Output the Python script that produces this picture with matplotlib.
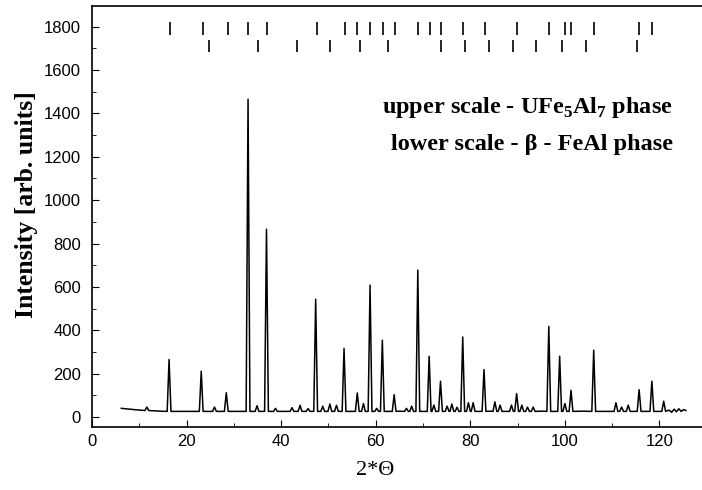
"""X-ray powder pattern of the UFe5Al7 sample with Bragg-position markers."""
import matplotlib
matplotlib.use("Agg")
import matplotlib.pyplot as plt
from matplotlib.ticker import MultipleLocator

# peak positions (2theta, deg) and peak heights
PEAK_POS = [11.6, 16.3, 23.1, 25.9, 28.4, 33.0, 34.9, 36.9, 38.8, 42.3,
            44.0, 45.7, 47.3, 48.8, 50.3, 51.7, 53.3, 56.1, 57.4, 58.8,
            60.2, 61.4, 63.9, 66.5, 67.6, 68.9, 71.3, 72.3, 73.7, 75.1,
            76.1, 77.2, 78.4, 79.6, 80.6, 82.9, 85.2, 86.3, 88.7, 89.8,
            90.9, 92.1, 93.3, 96.6, 98.9, 100.0, 101.3, 106.1, 110.8, 112.0,
            113.4, 115.7, 118.4, 120.9]
PEAK_INT = [46, 265, 211, 46, 112, 1465, 52, 866, 40, 43,
            54, 39, 543, 50, 60, 54, 316, 111, 62, 608,
            40, 354, 103, 40, 50, 677, 280, 55, 165, 50,
            60, 45, 369, 66, 66, 219, 70, 55, 55, 108,
            55, 46, 46, 418, 280, 62, 123, 308, 66, 46,
            55, 126, 165, 73]

# background points (start of scan decays, end is noisy)
BG_POS = [6.2, 7.5, 9.0, 10.5, 12.8, 14.5, 19.5, 30.5, 40.5, 65.0,
          84.0, 95.0, 104.0, 109.0, 122.0, 122.6, 123.1, 123.6, 124.1,
          124.6, 125.1, 125.6]
BG_INT = [40, 37, 34, 31, 29, 27, 26, 26, 26, 27,
          27, 27, 27, 26, 32, 22, 36, 24, 38, 26, 34, 30]
BASE = 26

# Bragg marker positions
UPPER_TICKS = [16.6, 23.4, 28.7, 33.0, 37.1, 47.5, 53.4, 56.1, 58.8, 61.5,
               64.0, 69.0, 71.5, 73.9, 78.5, 83.1, 89.9, 96.7, 100.1, 101.3,
               106.1, 115.7, 118.4]
LOWER_TICKS = [24.7, 35.0, 43.3, 50.3, 56.7, 62.5, 73.8, 78.8, 83.9, 89.1,
               94.0, 99.3, 104.4, 115.3]

plt.rcParams["mathtext.fontset"] = "custom"
plt.rcParams["mathtext.bf"] = "Liberation Serif:bold"
plt.rcParams["mathtext.rm"] = "Liberation Serif"

HALF_W = 0.4
pts = list(zip(BG_POS, BG_INT))
for p, h in zip(PEAK_POS, PEAK_INT):
    foot = BASE if p > 14 else 30
    pts += [(p - HALF_W, foot), (p, h), (p + HALF_W, foot)]
pts.sort()
tt = [a for a, b in pts]
ii = [b for a, b in pts]

fig = plt.figure(figsize=(7.02, 4.90), dpi=100)
ax = fig.add_axes([92 / 702, 63 / 490, 1 - 92 / 702, 421 / 490])

ax.plot(tt, ii, color="black", lw=1.1)
ax.vlines(UPPER_TICKS, 1762, 1822, color="black", lw=1.2)
ax.vlines(LOWER_TICKS, 1682, 1740, color="black", lw=1.2)

ax.set_xlim(0, 129)
ax.set_ylim(-46, 1895)
ax.xaxis.set_major_locator(MultipleLocator(20))
ax.xaxis.set_minor_locator(MultipleLocator(10))
ax.yaxis.set_major_locator(MultipleLocator(200))
ax.yaxis.set_minor_locator(MultipleLocator(100))
ax.tick_params(which="both", direction="in", top=False, right=False,
               labelsize=12, colors="black")
ax.tick_params(axis="y", which="major", length=5, width=0.8, pad=8)
ax.tick_params(axis="x", which="major", length=5, width=0.8, pad=5)
ax.tick_params(which="minor", length=3, width=0.6)
for lab in ax.get_xticklabels() + ax.get_yticklabels():
    lab.set_family("Liberation Sans")
ax.spines["right"].set_visible(False)
for s in ["left", "bottom", "top"]:
    ax.spines[s].set_linewidth(1.2)

serif = "Liberation Serif"
ax.text(0.952, 0.746, r"upper scale - UFe$_\mathbf{5}$Al$_\mathbf{7}$ phase",
        transform=ax.transAxes, ha="right", va="baseline",
        fontsize=17.5, fontweight="bold", family=serif)
ax.text(0.952, 0.658, "lower scale - \u03b2 - FeAl phase",
        transform=ax.transAxes, ha="right", va="baseline",
        fontsize=17.5, fontweight="bold", family=serif)

fig.text(27 / 702, 1 - 205 / 490, "Intensity [arb. units]", rotation=90,
         ha="center", va="center", fontsize=18.5, fontweight="bold",
         family=serif)
fig.text(375 / 702, 1 - 470 / 490, "2*\u0398", ha="center", va="center",
         fontsize=16, family=serif)

fig.savefig("out.png", dpi=100)
